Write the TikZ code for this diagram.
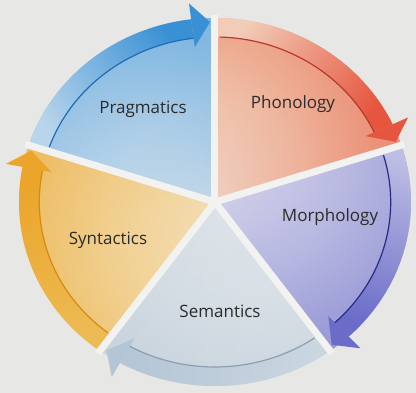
\documentclass[tikz,border=0pt]{standalone}
\usepackage{fontspec}
\setmainfont{Open Sans}
\usetikzlibrary{fadings}

\definecolor{bg}{HTML}{E7E7E5}
\definecolor{gapc}{HTML}{F2F2F0}
\definecolor{ink}{HTML}{2B2B2B}
% Pragmatics (blue)
\definecolor{prP}{HTML}{E0E7EE}
\definecolor{prM}{HTML}{C4DAEB}
\definecolor{prS}{HTML}{A2C9E7}
\definecolor{prT}{HTML}{B8D5EB}
\definecolor{prH}{HTML}{3A90D5}
\definecolor{prL}{HTML}{1E6CB6}
% Phonology (red)
\definecolor{phP}{HTML}{F2DED2}
\definecolor{phM}{HTML}{F0C6AE}
\definecolor{phS}{HTML}{EDA98E}
\definecolor{phT}{HTML}{F2CCB8}
\definecolor{phH}{HTML}{E6553F}
\definecolor{phL}{HTML}{B8392A}
% Morphology (violet)
\definecolor{moP}{HTML}{DEDEEE}
\definecolor{moM}{HTML}{C6C6E7}
\definecolor{moS}{HTML}{AEAEDE}
\definecolor{moT}{HTML}{BEBEE4}
\definecolor{moH}{HTML}{6A6CC8}
\definecolor{moL}{HTML}{2A2A86}
% Semantics (grey-blue)
\definecolor{seP}{HTML}{E4E8EB}
\definecolor{seM}{HTML}{DDE3E8}
\definecolor{seS}{HTML}{D2DBE3}
\definecolor{seT}{HTML}{CCD7E1}
\definecolor{seH}{HTML}{B4C5D5}
\definecolor{seL}{HTML}{8C9EB0}
% Syntactics (amber)
\definecolor{syP}{HTML}{F5E8CF}
\definecolor{syM}{HTML}{F3DAA8}
\definecolor{syS}{HTML}{F0CA82}
\definecolor{syT}{HTML}{EDBB55}
\definecolor{syH}{HTML}{EAA52A}
\definecolor{syL}{HTML}{D58C0C}

\tikzfading[name=headward, bottom color=transparent!100, top color=transparent!0]

\def\pieR{184}
\def\pier{165}

% one wedge: #1 tail angle, #2 centre, #3 middle, #4 rim, #5 band tail, #6 band head, #7 shading id
\newcommand\pieseg[7]{%
  \pgfmathsetmacro\aT{#1}%
  \pgfmathsetmacro\aH{#1-72}%
  \pgfmathsetmacro\aB{#1-65}%
  \pgfmathsetmacro\sgdir{#1-216}%
  \pgfdeclareradialshading{wedge#7}{\pgfpointorigin}{color(0bp)=(#2); color(12bp)=(#3); color(20.5bp)=(#4); color(50bp)=(#4)}%
  \begin{scope}
    \clip (0,0) -- (\aT:\pieR) arc[start angle=\aT, end angle=\aH, radius=\pieR] -- cycle;
    \shade[shading=wedge#7] (-200,-200) rectangle (200,200);
    \fill[#6, fill opacity=0.3, path fading=headward, fading angle=\sgdir]
      (0,0) -- (\aT:\pieR) arc[start angle=\aT, end angle=\aH, radius=\pieR] -- cycle;
    \shade[bottom color=#5, top color=#6, shading angle=\sgdir]
      (\aT:\pier) arc[start angle=\aT, end angle=\aB, radius=\pier]
      -- (\aB:\pieR+2) arc[start angle=\aB, end angle=\aT, radius=\pieR+2] -- cycle;
  \end{scope}
}

% arrow head and inner rule of a wedge: #1 tail angle, #2 head colour, #3 rule colour
\newcommand\piearrow[3]{%
  \pgfmathsetmacro\aS{#1-1.5}%
  \pgfmathsetmacro\aB{#1-65}%
  \pgfmathsetmacro\aTip{#1-70.5}%
  \fill[#2] (\aB:156) -- (\aTip:180) -- (\aB:200) -- cycle;
  \draw[#3, line width=1.2pt] (\aS:\pier) arc[start angle=\aS, end angle=\aB, radius=\pier];
}

\begin{document}
\begin{tikzpicture}[x=1pt, y=1pt,
  lbl/.style={text=ink, font=\fontsize{17}{20}\selectfont, inner sep=0pt}]
  \fill[bg] (-215,-191) rectangle (201,202);
  \useasboundingbox (-215,-191) rectangle (201,202);

  \begin{scope}[xscale=1.065]
    \pieseg{162}{prP}{prM}{prS}{prT}{prH}{A}
    \pieseg{90}{phP}{phM}{phS}{phT}{phH}{B}
    \pieseg{18}{moP}{moM}{moS}{moT}{moH}{C}
    \pieseg{-54}{seP}{seM}{seS}{seT}{seH}{D}
    \pieseg{-126}{syP}{syM}{syS}{syT}{syH}{E}

    % white gaps between the wedges
    \foreach \g in {90,18,-54,-126,162}
      \draw[gapc, line width=7pt] (0,0) -- (\g:\pieR+3);

    \piearrow{162}{prH}{prL}
    \piearrow{90}{phH}{phL}
    \piearrow{18}{moH}{moL}
    \piearrow{-54}{seH}{seL}
    \piearrow{-126}{syH}{syL}
  \end{scope}

  \node[lbl] (prag) at (-72,93)  {Pragmatics};
  \node[lbl] (phon) at (78,98)   {Phonology};
  \node[lbl] (morph) at (115,-15) {Morphology};
  \node[lbl] (synt) at (-107,-38) {Syntactics};
  \node[lbl] (sem) at (5,-109)   {Semantics};
\end{tikzpicture}
\end{document}
